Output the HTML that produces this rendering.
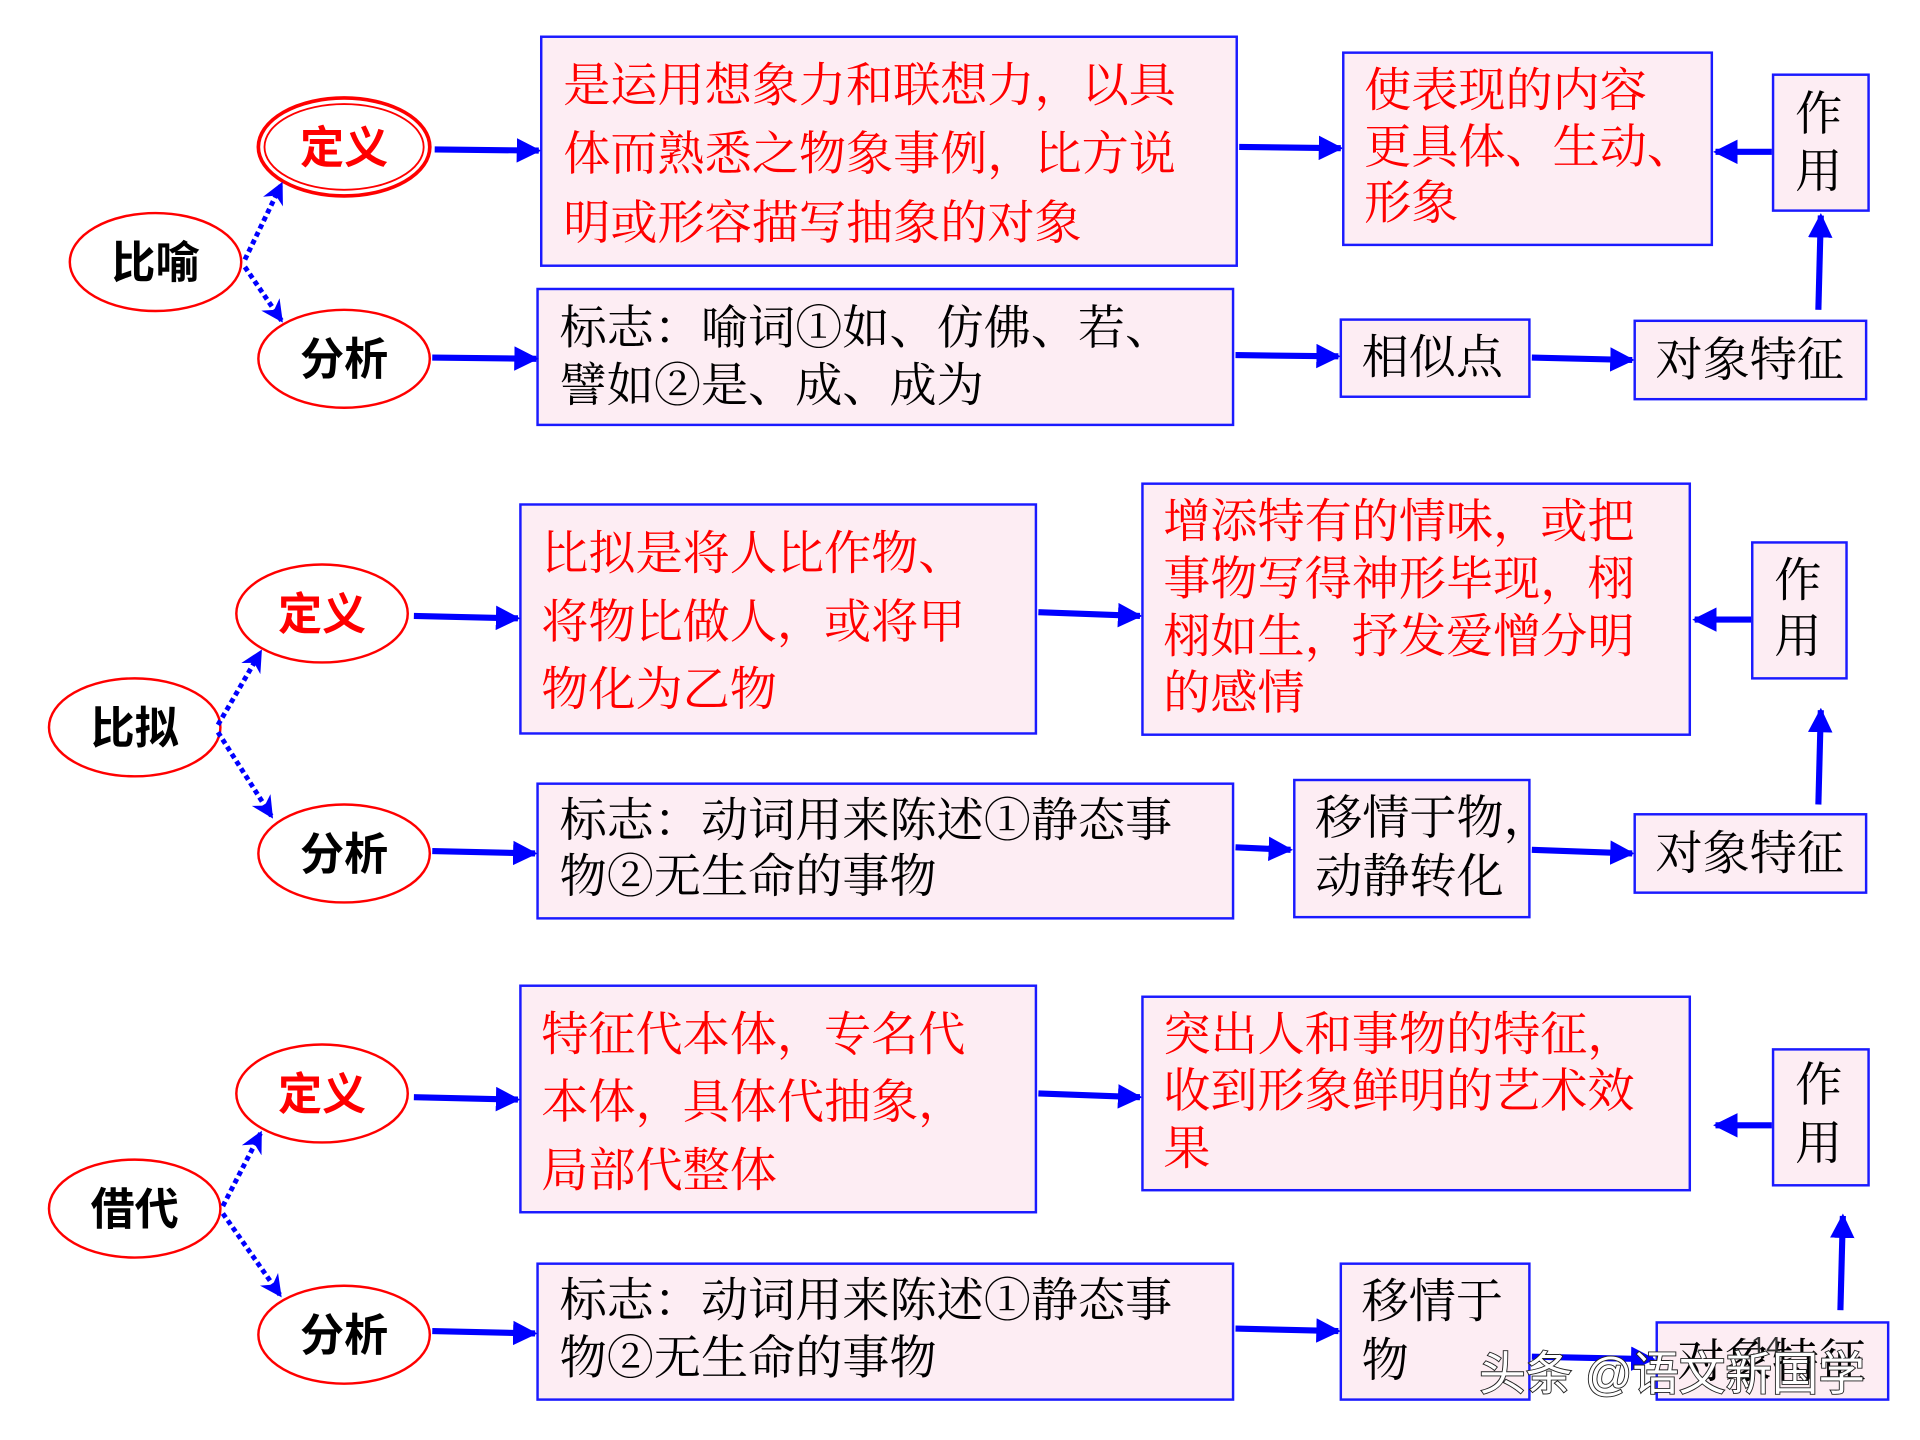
<!DOCTYPE html>
<html><head><meta charset="utf-8"><style>
html,body{margin:0;padding:0;background:#fff;}
svg{display:block;}
.b{fill:#fdedf3;stroke:#1a1aff;stroke-width:2;}
.t{font-family:"Liberation Serif","Noto Serif CJK SC",serif;font-size:38.5px;}
.r{fill:#ff0000;}
.k{fill:#000;}
.e{fill:#fff;stroke:#ff0000;stroke-width:2;}
.et{font-family:"Liberation Sans","Noto Sans CJK SC",sans-serif;font-size:36px;font-weight:bold;text-anchor:middle;}
.a{stroke:#0000ff;stroke-width:5;fill:none;marker-end:url(#ah);}
.d{stroke:#0000ff;stroke-width:4;fill:none;stroke-dasharray:4 3;marker-end:url(#ah2);}
</style></head><body>
<svg width="1920" height="1440" viewBox="0 0 1568 1176" preserveAspectRatio="none" xmlns="http://www.w3.org/2000/svg">
<defs>
<marker id="ah" viewBox="0 0 10 10" refX="9" refY="5" markerWidth="4" markerHeight="4" orient="auto" markerUnits="strokeWidth"><path d="M0,0 L10,5 L0,10 z" fill="#0000ff"/></marker>
<marker id="ah2" viewBox="0 0 10 10" refX="9" refY="5" markerWidth="4.5" markerHeight="4.5" orient="auto" markerUnits="strokeWidth"><path d="M0,0 L10,5 L0,10 L3,5 z" fill="#0000ff"/></marker>
</defs>

<!-- Section 1 -->
<ellipse class="e" cx="127" cy="214" rx="70" ry="40"/>
<text class="et k" x="127" y="227">比喻</text>
<ellipse class="e" cx="281" cy="120" rx="70" ry="40" style="stroke-width:3"/>
<ellipse cx="281" cy="120" rx="65" ry="35" fill="none" stroke="#ff0000" stroke-width="1.5"/>
<text class="et r" x="281" y="133">定义</text>
<ellipse class="e" cx="281" cy="293" rx="70" ry="40"/>
<text class="et k" x="281" y="306">分析</text>
<path class="d" d="M200,212 L230,150"/>
<path class="d" d="M200,218 L230,262"/>

<rect class="b" x="442" y="30" width="568" height="187"/>
<text class="t r" x="460" y="83">是运用想象力和联想力，以具</text>
<text class="t r" x="460" y="139">体而熟悉之物象事例，比方说</text>
<text class="t r" x="460" y="195">明或形容描写抽象的对象</text>
<path class="a" d="M355,122 L440,123"/>
<path class="a" d="M1012,120 L1095,121"/>
<rect class="b" x="1097" y="43" width="301" height="157"/>
<text class="t r" x="1114" y="87">使表现的内容</text>
<text class="t r" x="1114" y="133">更具体、生动、</text>
<text class="t r" x="1114" y="179">形象</text>
<rect class="b" x="1448" y="61" width="78" height="111"/>
<text class="t k" x="1466" y="106">作</text>
<text class="t k" x="1466" y="153">用</text>
<path class="a" d="M1447,124 L1401,124"/>
<rect class="b" x="439" y="236" width="568" height="111"/>
<text class="t k" x="457" y="281">标志：喻词①如、仿佛、若、</text>
<text class="t k" x="457" y="328">譬如②是、成、成为</text>
<path class="a" d="M353,292 L438,293"/>
<path class="a" d="M1009,290 L1093,291"/>
<rect class="b" x="1095" y="261" width="154" height="63"/>
<text class="t k" x="1112" y="305">相似点</text>
<path class="a" d="M1251,292 L1333,294"/>
<rect class="b" x="1335" y="262" width="189" height="64"/>
<text class="t k" x="1352" y="307">对象特征</text>
<path class="a" d="M1485,253 L1487,176"/>

<!-- Section 2 -->
<ellipse class="e" cx="110" cy="594" rx="70" ry="40"/>
<text class="et k" x="110" y="607">比拟</text>
<ellipse class="e" cx="263" cy="501" rx="70" ry="40"/>
<text class="et r" x="263" y="514">定义</text>
<ellipse class="e" cx="281" cy="697" rx="70" ry="40"/>
<text class="et k" x="281" y="710">分析</text>
<path class="d" d="M178,592 L213,532"/>
<path class="d" d="M178,598 L222,667"/>
<rect class="b" x="425" y="412" width="421" height="187"/>
<text class="t r" x="442" y="465">比拟是将人比作物、</text>
<text class="t r" x="442" y="521">将物比做人，或将甲</text>
<text class="t r" x="442" y="576">物化为乙物</text>
<path class="a" d="M338,503 L423,505"/>
<path class="a" d="M848,500 L931,503"/>
<rect class="b" x="933" y="395" width="447" height="205"/>
<text class="t r" x="950" y="439">增添特有的情味，或把</text>
<text class="t r" x="950" y="486">事物写得神形毕现，栩</text>
<text class="t r" x="950" y="533">栩如生，抒发爱憎分明</text>
<text class="t r" x="950" y="579">的感情</text>
<rect class="b" x="1431" y="443" width="77" height="111"/>
<text class="t k" x="1449" y="487">作</text>
<text class="t k" x="1449" y="533">用</text>
<path class="a" d="M1430,506 L1384,506"/>
<rect class="b" x="439" y="640" width="568" height="110"/>
<text class="t k" x="457" y="683">标志：动词用来陈述①静态事</text>
<text class="t k" x="457" y="729">物②无生命的事物</text>
<path class="a" d="M353,695 L437,697"/>
<path class="a" d="M1009,692 L1054,694"/>
<rect class="b" x="1057" y="637" width="192" height="112"/>
<text class="t k" x="1074" y="681">移情于物，</text>
<text class="t k" x="1074" y="729">动静转化</text>
<path class="a" d="M1251,694 L1333,697"/>
<rect class="b" x="1335" y="665" width="189" height="64"/>
<text class="t k" x="1352" y="710">对象特征</text>
<path class="a" d="M1485,657 L1487,580"/>

<!-- Section 3 -->
<ellipse class="e" cx="110" cy="987" rx="70" ry="40"/>
<text class="et k" x="110" y="1000">借代</text>
<ellipse class="e" cx="263" cy="893" rx="70" ry="40"/>
<text class="et r" x="263" y="906">定义</text>
<ellipse class="e" cx="281" cy="1090" rx="70" ry="40"/>
<text class="et k" x="281" y="1103">分析</text>
<path class="d" d="M182,985 L213,925"/>
<path class="d" d="M182,991 L229,1058"/>
<rect class="b" x="425" y="805" width="421" height="185"/>
<text class="t r" x="442" y="858">特征代本体，专名代</text>
<text class="t r" x="442" y="913">本体，具体代抽象，</text>
<text class="t r" x="442" y="969">局部代整体</text>
<path class="a" d="M338,896 L423,898"/>
<path class="a" d="M848,893 L931,896"/>
<rect class="b" x="933" y="814" width="447" height="158"/>
<text class="t r" x="950" y="858">突出人和事物的特征，</text>
<text class="t r" x="950" y="904">收到形象鲜明的艺术效</text>
<text class="t r" x="950" y="951">果</text>
<rect class="b" x="1448" y="857" width="78" height="111"/>
<text class="t k" x="1466" y="899">作</text>
<text class="t k" x="1466" y="947">用</text>
<path class="a" d="M1447,919 L1401,919"/>
<rect class="b" x="439" y="1032" width="568" height="111"/>
<text class="t k" x="457" y="1075">标志：动词用来陈述①静态事</text>
<text class="t k" x="457" y="1122">物②无生命的事物</text>
<path class="a" d="M353,1087 L437,1089"/>
<path class="a" d="M1009,1085 L1093,1087"/>
<rect class="b" x="1095" y="1032" width="154" height="111"/>
<text class="t k" x="1112" y="1076">移情于</text>
<text class="t k" x="1112" y="1124">物</text>
<path class="a" d="M1251,1108 L1350,1110"/>
<rect class="b" x="1353" y="1080" width="189" height="63"/>
<text class="t k" x="1370" y="1125">对象特征</text>
<text x="1430" y="1107" style="font-family:'Liberation Sans',sans-serif;font-size:22px;fill:#333">14</text>
<path class="a" d="M1503,1070 L1505,993"/>
<text x="1208" y="1135" style="font-family:'Liberation Sans','Noto Sans CJK SC',sans-serif;font-size:38px;fill:#fff;stroke:#222;stroke-width:1.5;paint-order:stroke">头条 @语文新国学</text>
</svg>
</body></html>
